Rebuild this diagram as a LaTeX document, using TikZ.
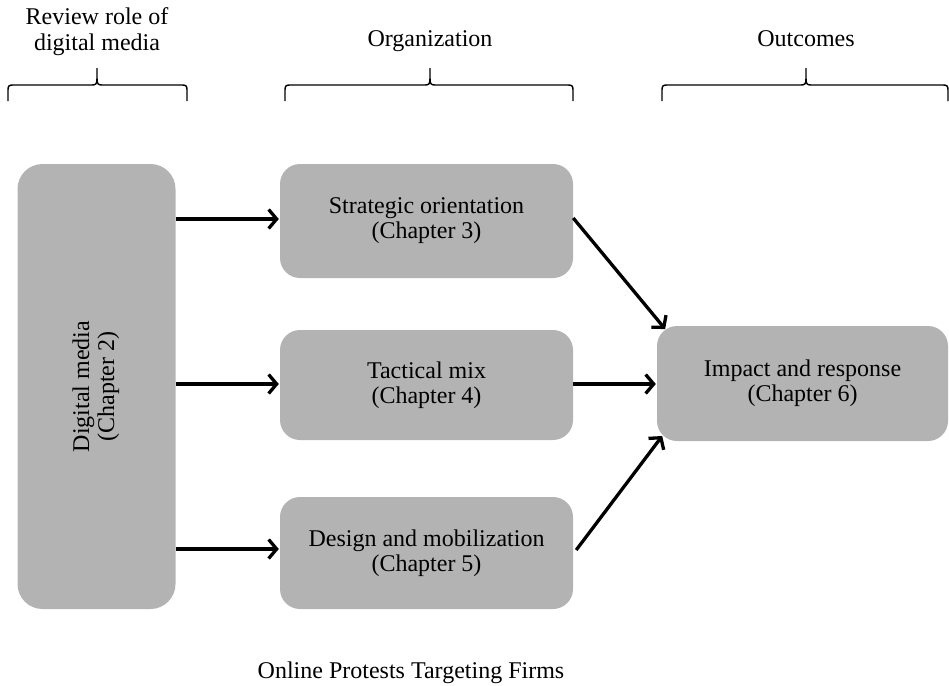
\documentclass[tikz,border=0pt]{standalone}
\usepackage{fontspec}
\setmainfont{Liberation Serif}
\usetikzlibrary{arrows.meta,calc}
\definecolor{boxgray}{RGB}{179,179,179}
\tikzset{
  chapbox/.style={fill=boxgray, draw=none, rounded corners=20pt, align=center,
    inner sep=0pt, font=\fontsize{24}{25}\selectfont},
  flow/.style={line width=3.3pt, -{Straight Barb[length=8pt,width=19pt,line width=3.3pt]}, shorten >=1pt},
  brace/.style={line width=1.4pt},
  heading/.style={align=center, inner sep=0pt, font=\fontsize{24}{25}\selectfont}
}
\begin{document}
\begin{tikzpicture}[x=1pt,y=-1pt]
\useasboundingbox (0,0) rectangle (949,685);

% chapter boxes
\node[chapbox, rounded corners=25pt, minimum width=158pt, minimum height=445pt] (dm) at (96.5,386.5)
  {\rotatebox{90}{\begin{tabular}{@{}c@{}}Digital media\\(Chapter 2)\end{tabular}}};
\node[chapbox, minimum width=293pt, minimum height=114pt] (so) at (426.5,221) {Strategic orientation\\(Chapter 3)};
\node[chapbox, minimum width=293pt, minimum height=110pt] (tm) at (426.5,385) {Tactical mix\\(Chapter 4)};
\node[chapbox, minimum width=293pt, minimum height=112pt] (dmob) at (426.5,553) {Design and mobilization\\(Chapter 5)};
\node[chapbox, minimum width=291pt, minimum height=115pt] (ir) at (802.5,383.5) {Impact and response\\(Chapter 6)};

% connectors
\draw[flow] (dm.east |- 0,219) -- (so.west |- 0,219);
\draw[flow] (dm.east |- 0,384) -- (tm.west |- 0,384);
\draw[flow] (dm.east |- 0,549) -- (dmob.west |- 0,549);
\coordinate (irtop) at ($(ir.north west)+(9,4)$);
\coordinate (irbot) at ($(ir.south west)+(6,-6)$);
\draw[flow] ($(so.east)+(0,-3)$) -- (irtop);
\draw[flow] (tm.east |- 0,384) -- (ir.west |- 0,384);
\draw[flow] ($(dmob.east)+(3,-3)$) -- (irbot);

% braces with headings
\newcommand{\topbrace}[4]{% left x, right x, tip x, name
  \draw[brace] (#1,101) -- (#1,90) .. controls (#1,86) and (#1+1,85) .. (#1+5,85)
    -- (#3-5,85) .. controls (#3-1,85) and (#3,84) .. (#3,78) -- (#3,68) -- (#3,78)
    .. controls (#3,84) and (#3+1,85) .. (#3+5,85) -- (#2-5,85)
    .. controls (#2-1,85) and (#2,86) .. (#2,90) -- (#2,101);
  \coordinate (#4) at (#3,68);
}
\topbrace{8}{187}{97}{b1}
\topbrace{285}{573}{430}{b2}
\topbrace{662}{948}{806}{b3}

\node[heading, anchor=base] (h1) at (97,50) {Review role of\\digital media};
\node[heading, anchor=base] (h2) at (430,46) {Organization};
\node[heading, anchor=base] (h3) at (806,46) {Outcomes};
\node[heading, anchor=base] (cap) at (411,678) {Online Protests Targeting Firms};
\end{tikzpicture}
\end{document}
